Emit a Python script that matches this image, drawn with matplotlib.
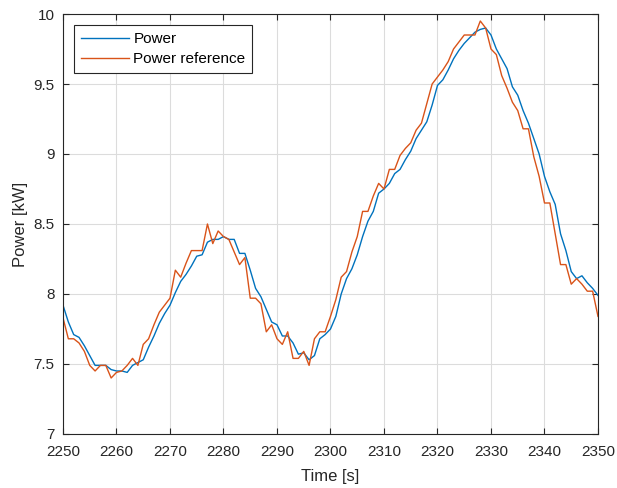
import numpy as np
import matplotlib
matplotlib.use("Agg")
import matplotlib.pyplot as plt
from matplotlib.ticker import FuncFormatter

# time axis, 1 s sampling
time = np.arange(2250, 2351)

power = [7.92, 7.80, 7.71, 7.69, 7.63, 7.56, 7.49, 7.49, 7.49, 7.46,
         7.45, 7.45, 7.44, 7.49, 7.51, 7.53, 7.62, 7.70, 7.79, 7.86,
         7.92, 8.01, 8.09, 8.14, 8.20, 8.27, 8.28, 8.37, 8.39, 8.39,
         8.41, 8.39, 8.39, 8.29, 8.29, 8.17, 8.04, 7.98, 7.89, 7.80,
         7.78, 7.70, 7.70, 7.65, 7.57, 7.58, 7.53, 7.56, 7.68, 7.71,
         7.75, 7.84, 8.00, 8.11, 8.18, 8.28, 8.41, 8.52, 8.59, 8.72,
         8.75, 8.79, 8.86, 8.89, 8.96, 9.02, 9.11, 9.17, 9.23, 9.35,
         9.49, 9.53, 9.60, 9.68, 9.74, 9.79, 9.83, 9.87, 9.89, 9.90,
         9.85, 9.75, 9.68, 9.61, 9.48, 9.42, 9.31, 9.22, 9.11, 9.00,
         8.84, 8.73, 8.64, 8.43, 8.31, 8.16, 8.11, 8.13, 8.08, 8.04,
         7.99]

power_ref = [7.83, 7.68, 7.68, 7.65, 7.59, 7.49, 7.45, 7.49, 7.49, 7.40,
             7.44, 7.45, 7.49, 7.54, 7.49, 7.64, 7.68, 7.78, 7.87, 7.92,
             7.97, 8.17, 8.12, 8.22, 8.31, 8.31, 8.31, 8.50, 8.36, 8.45,
             8.41, 8.39, 8.30, 8.21, 8.26, 7.97, 7.97, 7.93, 7.73, 7.78,
             7.68, 7.64, 7.73, 7.54, 7.54, 7.59, 7.49, 7.68, 7.73, 7.73,
             7.84, 7.96, 8.12, 8.16, 8.30, 8.41, 8.59, 8.59, 8.70, 8.79,
             8.75, 8.89, 8.89, 8.99, 9.04, 9.08, 9.17, 9.22, 9.36, 9.50,
             9.55, 9.60, 9.66, 9.75, 9.80, 9.85, 9.85, 9.85, 9.95, 9.90,
             9.75, 9.71, 9.56, 9.47, 9.37, 9.31, 9.18, 9.18, 8.98, 8.84,
             8.65, 8.65, 8.43, 8.21, 8.21, 8.07, 8.11, 8.07, 8.02, 8.02,
             7.84]

plt.rcParams['font.family'] = ['Liberation Sans', 'DejaVu Sans']

fig = plt.figure(figsize=(6.17, 4.88), dpi=100)
ax = fig.add_axes([0.1021, 0.1107, 0.8671, 0.8606])

ax.plot(time, power, color='#0072BD', linewidth=1.0, label='Power')
ax.plot(time, power_ref, color='#D95319', linewidth=1.0, label='Power reference')

ax.set_xlim(2250, 2350)
ax.set_ylim(7, 10)
ax.set_xticks(np.arange(2250, 2351, 10))
ax.set_yticks(np.arange(7, 10.01, 0.5))
ax.yaxis.set_major_formatter(FuncFormatter(lambda v, p: f'{v:g}'))

edge = '#262626'
for s in ax.spines.values():
    s.set_color(edge)
    s.set_linewidth(0.8)
ax.tick_params(direction='in', top=True, right=True, length=4, width=0.8,
               colors=edge, labelsize=11, labelcolor=edge)
ax.tick_params(axis='x', pad=8)
ax.tick_params(axis='y', pad=6)
ax.grid(True, color='#dcdcdc', linewidth=0.8)
ax.set_axisbelow(True)

ax.set_xlabel('Time [s]', fontsize=12, color=edge, labelpad=7)
ax.set_ylabel('Power [kW]', fontsize=12, color=edge)

leg = ax.legend(loc='upper left', fontsize=11, fancybox=False, framealpha=1,
                edgecolor=edge, handlelength=3.1, handletextpad=0.3,
                borderaxespad=0.75, labelspacing=0.4, borderpad=0.45)
leg.get_frame().set_linewidth(0.8)

fig.savefig('out.png', dpi=100)
